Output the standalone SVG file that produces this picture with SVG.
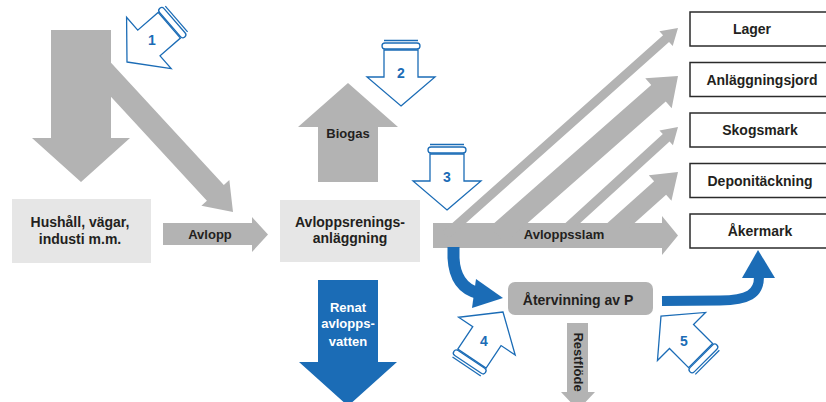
<svg xmlns="http://www.w3.org/2000/svg" xmlns:xlink="http://www.w3.org/1999/xlink" width="826" height="402" viewBox="0 0 826 402">
<style>
.g{fill:#b3b3b3}
.bl{fill:#1b6cb6}
.bls{fill:none;stroke:#1b6cb6}
.box{fill:#e6e6e6}
.ob{fill:#fff;stroke:#2b2b2b;stroke-width:1.5}
.rb{fill:#b3b3b3}
.t{font-family:"Liberation Sans",Arial,sans-serif;font-weight:bold;font-size:14px;fill:#231f20;text-anchor:middle}
.s{font-size:13px}
.w{fill:#fff}
.num{font-family:"Liberation Sans",Arial,sans-serif;font-weight:bold;font-size:14px;fill:#1b6cb6;text-anchor:middle}
.hol{fill:#fff;stroke:#1b6cb6;stroke-width:1.3;stroke-linejoin:miter}
</style>
<defs>
<g id="hollow">
<polygon class="hol" points="0,0 34,-29 17,-29 17,-56 -17,-56 -17,-29 -34,-29"/>
<rect class="hol" x="-19" y="-63" width="38" height="6" rx="3"/>
<line class="hol" x1="-17" y1="-65.5" x2="17" y2="-65.5"/>
</g>
</defs>
<rect width="826" height="402" fill="#fff"/>

<g id="connectors">
<!-- inflow from top -->
<polygon class="g" points="51,30 111,30 111,138 130,138 81,182 32,138 51,138"/>
<polygon class="g" transform="translate(233,212) rotate(47.3)" points="-210.7,-11.5 -26,-11.5 -26,-19 0,0 -26,19 -26,11.5 -210.7,11.5"/>
<!-- Avlopp -->
<polygon class="g" points="163,223 252,223 252,217 268,234.5 252,252 252,245 163,245"/>
<text class="t s" x="210" y="239">Avlopp</text>
<!-- Biogas -->
<polygon class="g" points="318,182 378,182 378,127 398,127 348,83 298,127 318,127"/>
<text class="t s" x="348" y="138">Biogas</text>
<!-- Renat avloppsvatten -->
<polygon class="bl" points="318,280 378,280 378,362 397,362 348,406 299,362 318,362"/>
<text class="t s w" x="348" y="312">Renat</text>
<text class="t s w" x="348" y="328">avlopps-</text>
<text class="t s w" x="348" y="346">vatten</text>
<!-- Avloppsslam -->
<polygon class="g" points="433,223 662,223 662,216 678,235.5 662,255 662,248 433,248"/>
<polygon class="g" transform="translate(678,28) rotate(-41.7)" points="-311.3,-4.5 -16,-4.5 -16,-10 0,0 -16,10 -16,4.5 -311.3,4.5"/>
<polygon class="g" transform="translate(678,76) rotate(-41.35)" points="-240.6,-11 -26,-11 -26,-20 0,0 -26,20 -26,11 -240.6,11"/>
<polygon class="g" transform="translate(678,127) rotate(-42.4)" points="-160,-5 -16,-5 -16,-10 0,0 -16,10 -16,5 -160,5"/>
<polygon class="g" transform="translate(678,172) rotate(-41.8)" points="-94.5,-9 -24,-9 -24,-17 0,0 -24,17 -24,9 -94.5,9"/>
<text class="t s" x="564" y="239">Avloppsslam</text>
<!-- to Återvinning -->
<path class="bls" stroke-width="12" d="M453.5,247 L453.5,258 Q455,287 478,293"/>
<polygon class="bl" points="476,279 503,298 472,308"/>
<!-- Återvinning to Åkermark -->
<path class="bls" stroke-width="10" d="M662,301 L720,300.5 C748,300 759,294 759,277"/>
<polygon class="bl" points="742,278 758,250 775,278"/>
<!-- Restflöde -->
<polygon class="g" points="567,323 588,323 588,392 595,392 578,410 561,392 567,392"/>
<text class="t s" transform="translate(578,362) rotate(90)" x="0" y="4.5">Restflöde</text>
</g>

<g id="node-hushall">
<rect class="box" x="12" y="199" width="139" height="64"/>
<text class="t" x="80" y="227">Hushåll, vägar,</text>
<text class="t" x="80" y="244">industi m.m.</text>
</g>
<g id="node-avloppsrening">
<rect class="box" x="280" y="200" width="140" height="62"/>
<text class="t" x="350" y="227">Avloppsrenings-</text>
<text class="t" x="350" y="243">anläggning</text>
</g>
<g id="node-atervinning">
<rect class="rb" x="508" y="282" width="145" height="33" rx="7"/>
<text class="t" x="578" y="305">Återvinning av P</text>
</g>
<g id="node-lager">
<rect class="ob" x="690" y="12" width="145" height="34"/>
<text class="t" x="752" y="34">Lager</text>
</g>
<g id="node-anlaggningsjord">
<rect class="ob" x="690" y="62.5" width="145" height="34"/>
<text class="t" x="762" y="84.5">Anläggningsjord</text>
</g>
<g id="node-skogsmark">
<rect class="ob" x="690" y="113" width="145" height="34"/>
<text class="t" x="760" y="135">Skogsmark</text>
</g>
<g id="node-deponitackning">
<rect class="ob" x="690" y="163.5" width="145" height="34"/>
<text class="t" x="760" y="185.5">Deponitäckning</text>
</g>
<g id="node-akermark">
<rect class="ob" x="690" y="214" width="145" height="34"/>
<text class="t" x="760" y="236">Åkermark</text>
</g>

<g id="marker-1">
<use xlink:href="#hollow" transform="translate(127,62) rotate(49)"/>
<text class="num" x="152" y="45">1</text>
</g>
<g id="marker-2">
<use xlink:href="#hollow" transform="translate(401,106)"/>
<text class="num" x="401" y="78">2</text>
</g>
<g id="marker-3">
<use xlink:href="#hollow" transform="translate(447,210)"/>
<text class="num" x="447" y="182">3</text>
</g>
<g id="marker-4">
<use xlink:href="#hollow" transform="translate(503,312) rotate(213.7)"/>
<text class="num" x="484" y="346">4</text>
</g>
<g id="marker-5">
<use xlink:href="#hollow" transform="translate(661,316) rotate(135)"/>
<text class="num" x="684" y="346">5</text>
</g>
</svg>
